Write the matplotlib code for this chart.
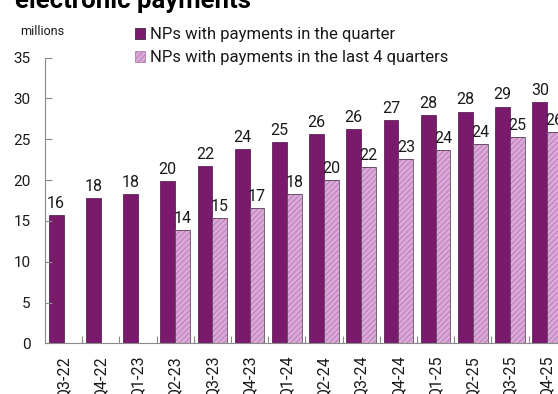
import matplotlib
matplotlib.use("Agg")
import matplotlib.pyplot as plt
from matplotlib.patches import Patch
import numpy as np

plt.rcParams['font.family'] = ['Roboto', 'DejaVu Sans']
plt.rcParams['hatch.linewidth'] = 0.6

quarters = ["Q3-22", "Q4-22", "Q1-23", "Q2-23", "Q3-23", "Q4-23", "Q1-24",
            "Q2-24", "Q3-24", "Q4-24", "Q1-25", "Q2-25", "Q3-25", "Q4-25"]
in_quarter = [15.7, 17.8, 18.3, 19.9, 21.7, 23.85, 24.7,
              25.65, 26.3, 27.4, 28.0, 28.4, 29.0, 29.6]
last_4_quarters = [None, None, None, 13.85, 15.3, 16.6, 18.3,
                   20.05, 21.6, 22.6, 23.65, 24.4, 25.25, 25.9]
series_names = ["NPs with payments in the quarter",
                "NPs with payments in the last 4 quarters"]

PURPLE = "#7A1A6D"
PINK = "#DCA8D9"
HATCH = "#B07BAE"
EDGE = "#3E2A3C"
TEXT = "#1a1a1a"
AXIS = "#8a8a8a"

fig = plt.figure(figsize=(5.58, 3.94), dpi=100)
ax = fig.add_axes([45 / 558, 1 - 343.3 / 394, 520.8 / 558, (343.3 - 57.7) / 394])

x = np.arange(len(quarters))
w = 0.4

b1 = ax.bar(x - w / 2, in_quarter, width=w, color=PURPLE,
            edgecolor="#4a1043", linewidth=0.5)

idx = [i for i, v in enumerate(last_4_quarters) if v is not None]
vals = [last_4_quarters[i] for i in idx]
b2 = ax.bar(x[idx] + w / 2, vals, width=w, color=PINK, hatch="//////",
            edgecolor=HATCH, linewidth=0)
ax.bar(x[idx] + w / 2, vals, width=w, fill=False, edgecolor=EDGE, linewidth=0.5)

ax.bar_label(b1, labels=[f"{v:.0f}" for v in in_quarter], padding=3,
             fontsize=11.5, color=TEXT)
ax.bar_label(b2, labels=[f"{v:.0f}" for v in vals], padding=3,
             fontsize=11.5, color=TEXT)

ax.set_xlim(-0.5, len(quarters) - 0.5)
ax.set_ylim(0, 35)
ax.set_yticks(range(0, 36, 5))
ax.set_xticks(x)
ax.set_xticklabels(quarters, rotation=90, fontsize=11.5, color=TEXT)
ax.set_xticks(x[:-1] + 0.5, minor=True)

ax.tick_params(axis="x", which="major", length=0, pad=9)
ax.tick_params(axis="x", which="minor", direction="in", length=5,
               width=0.8, color=AXIS)
ax.tick_params(axis="y", direction="in", length=5, width=0.8, color=AXIS,
               labelsize=11, labelcolor=TEXT, pad=10.5)

for side in ("top", "right"):
    ax.spines[side].set_visible(False)
ax.spines["left"].set_color(AXIS)
ax.spines["bottom"].set_color(AXIS)
ax.spines["left"].set_linewidth(0.8)
ax.spines["bottom"].set_linewidth(0.8)

handles = [Patch(facecolor=PURPLE, edgecolor=EDGE, linewidth=0.6),
           Patch(facecolor=PINK, hatch="//////", edgecolor=HATCH, linewidth=0.6)]
fig.legend(handles, series_names, loc="upper left",
           bbox_to_anchor=(135 / 558, 1 - 27 / 394), frameon=False,
           fontsize=12, handlelength=0.62, handleheight=0.62,
           handletextpad=0.25, labelspacing=0.5, borderpad=0,
           borderaxespad=0, labelcolor=TEXT)

fig.text(20 / 558, 1 - 35 / 394, "millions", fontsize=9, color=TEXT,
         ha="left", va="baseline")
fig.text(15 / 558, 1 - 8 / 394, "electronic payments", fontsize=18.5,
         fontweight="bold", color="black", ha="left", va="baseline")

fig.savefig("out.png", dpi=100)
